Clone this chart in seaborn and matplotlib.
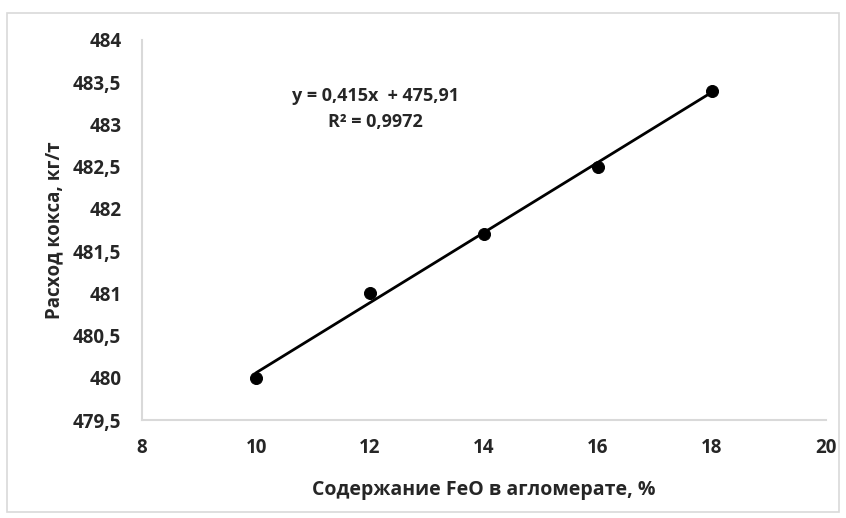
import matplotlib.pyplot as plt
import seaborn as sns
import numpy as np
import pandas as pd
from matplotlib.patches import Rectangle

# data
feo = [10, 12, 14, 16, 18]
coke = [480.0, 481.0, 481.7, 482.5, 483.4]
x_ticks = [8, 10, 12, 14, 16, 18, 20]
y_ticks = [479.5, 480, 480.5, 481, 481.5, 482, 482.5, 483, 483.5, 484]

sns.set_theme(style = "white")
plt.rcParams['font.family'] = ['Open Sans', 'DejaVu Sans']

df = pd.DataFrame({"x": feo, "y": coke})
slope, intercept = np.polyfit(df["x"], df["y"], 1)
fit = pd.DataFrame({"x": [feo[0], feo[-1]]})
fit["y"] = slope * fit["x"] + intercept

fig = plt.figure(figsize = (8.46, 5.18), dpi = 100)
ax = fig.add_axes([0.168, 0.189, 0.808, 0.734])

# outer chart border
fig.patches.append(Rectangle((7 / 846, 6 / 518), 832 / 846, 499 / 518,
                             transform = fig.transFigure, fill = False,
                             edgecolor = "#d9d9d9", linewidth = 1.2))

sns.lineplot(data = fit, x = "x", y = "y", color = "black", linewidth = 2, ax = ax)
sns.scatterplot(data = df, x = "x", y = "y", color = "black", s = 75,
                edgecolor = "black", ax = ax, zorder = 3)

ax.set_xlim(8, 20)
ax.set_ylim(479.5, 484)
ax.set_xticks(x_ticks)
ax.set_yticks(y_ticks)
ax.set_xticklabels([str(t) for t in x_ticks])
ax.set_yticklabels([f"{t:g}".replace(".", ",") for t in y_ticks])
ax.tick_params(length = 0, labelsize = 13.5, colors = "#262626")
ax.tick_params(axis = "y", pad = 15)
ax.tick_params(axis = "x", pad = 13)
for lbl in ax.get_xticklabels() + ax.get_yticklabels():
    lbl.set_fontweight("bold")

for side in ["top", "right"]:
    ax.spines[side].set_visible(False)
for side in ["left", "bottom"]:
    ax.spines[side].set_color("#d9d9d9")
    ax.spines[side].set_linewidth(1.5)

ax.set_xlabel("Содержание FeO в агломерате, %", fontsize = 14,
              fontweight = "bold", color = "#262626", labelpad = 16)
ax.set_ylabel("Расход кокса, кг/т", fontsize = 13.5,
              fontweight = "bold", color = "#262626", labelpad = 6)

eq = f"y = {slope:.3f}x  + {intercept:.2f}".replace(".", ",")
r2 = np.corrcoef(df["x"], df["y"])[0, 1] ** 2
ax.text(12.1, 483.18, eq + "\n" + f"R² = {r2:.4f}".replace(".", ","),
        ha = "center", va = "center", fontsize = 13, fontweight = "bold",
        color = "#262626", linespacing = 1.55)

fig.savefig("out.png", dpi = 100)
